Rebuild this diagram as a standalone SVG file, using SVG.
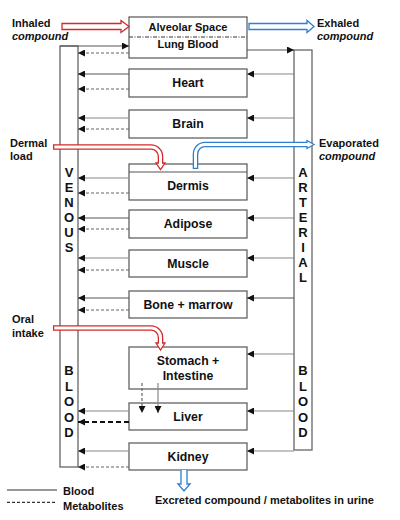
<svg xmlns="http://www.w3.org/2000/svg" width="400" height="520" viewBox="0 0 400 520">
<style>
text{font-family:"Liberation Sans",Arial,sans-serif;fill:#111;font-weight:bold}
.lbl{font-size:12.3px;text-anchor:middle}
.top{font-size:11px;text-anchor:middle}
.side{font-size:11px}
.it{font-style:italic}
.col{font-size:13px;text-anchor:middle}
.box{fill:#fff;stroke:#555;stroke-width:1.2}
.colr{fill:#fff;stroke:#666;stroke-width:1.3}
.s{stroke:#555;stroke-width:1.2;fill:none}
.a{stroke:#888;stroke-width:1.2;fill:none}
.d{stroke:#666;stroke-width:1.2;fill:none;stroke-dasharray:3 2}
.dd{stroke:#111;stroke-width:1.8;fill:none;stroke-dasharray:5 3}
.red{stroke:#d42a2a;stroke-width:1.3;fill:#fff}
.blue{stroke:#2f7fd0;stroke-width:1.3;fill:#fff}
</style>
<defs>
<marker id="ah" viewBox="0 0 8 8" refX="8" refY="4" markerWidth="7" markerHeight="7" markerUnits="userSpaceOnUse" orient="auto"><path d="M0,0 L8,4 L0,8 z" fill="#111"/></marker>
</defs>

<g id="venous">
<rect class="colr" x="60" y="46" width="18" height="421"/>
<text class="col" x="69" y="177">V</text>
<text class="col" x="69" y="192">E</text>
<text class="col" x="69" y="207">N</text>
<text class="col" x="69" y="222">O</text>
<text class="col" x="69" y="237">U</text>
<text class="col" x="69" y="252">S</text>
<text class="col" x="69" y="375">B</text>
<text class="col" x="69" y="390.5">L</text>
<text class="col" x="69" y="406">O</text>
<text class="col" x="69" y="421.5">O</text>
<text class="col" x="69" y="437">D</text>
</g>
<g id="arterial">
<rect class="colr" x="294" y="50" width="18" height="400"/>
<text class="col" x="303" y="177">A</text>
<text class="col" x="303" y="192">R</text>
<text class="col" x="303" y="207">T</text>
<text class="col" x="303" y="222">E</text>
<text class="col" x="303" y="237">R</text>
<text class="col" x="303" y="252">I</text>
<text class="col" x="303" y="267">A</text>
<text class="col" x="303" y="282">L</text>
<text class="col" x="303" y="375">B</text>
<text class="col" x="303" y="390.5">L</text>
<text class="col" x="303" y="406">O</text>
<text class="col" x="303" y="421.5">O</text>
<text class="col" x="303" y="437">D</text>
</g>

<g id="lung">
<rect class="box" x="129" y="17" width="118" height="41"/>
<line x1="129" y1="37" x2="247" y2="37" stroke="#333" stroke-width="1" stroke-dasharray="4 1.5 1 1.5"/>
<text class="top" x="188" y="31">Alveolar Space</text>
<text class="top" x="188" y="48.3">Lung Blood</text>
</g>
<g id="heart"><rect class="box" x="129" y="69" width="118" height="28"/><text class="lbl" x="188" y="87.4">Heart</text></g>
<g id="brain"><rect class="box" x="129" y="110" width="118" height="28"/><text class="lbl" x="188" y="128.4">Brain</text></g>
<g id="dermis"><rect class="box" x="129" y="164" width="118" height="36"/><line x1="129" y1="172" x2="247" y2="172" stroke="#555" stroke-width="1.2"/><text class="lbl" x="188" y="190.2">Dermis</text></g>
<g id="adipose"><rect class="box" x="129" y="210" width="118" height="28"/><text class="lbl" x="188" y="228.4">Adipose</text></g>
<g id="muscle"><rect class="box" x="129" y="250" width="118" height="27"/><text class="lbl" x="188" y="268">Muscle</text></g>
<g id="bone"><rect class="box" x="129" y="291" width="118" height="27"/><text class="lbl" x="188" y="309">Bone + marrow</text></g>
<g id="stomach"><rect class="box" x="129" y="347" width="118" height="42"/><text class="lbl" x="188" y="365">Stomach +</text><text class="lbl" x="188" y="380">Intestine</text></g>
<g id="liver"><rect class="box" x="129" y="403" width="118" height="27"/><text class="lbl" x="188" y="421">Liver</text></g>
<g id="kidney"><rect class="box" x="129" y="443" width="118" height="27"/><text class="lbl" x="188" y="461">Kidney</text></g>

<g id="connectors">
<line class="s" x1="60" y1="46" x2="129" y2="46" marker-end="url(#ah)"/>
<line class="s" x1="247" y1="50" x2="294" y2="50" marker-end="url(#ah)"/>
<line class="d" x1="129" y1="53" x2="78" y2="53" marker-end="url(#ah)"/>
<line class="s" x1="129" y1="74" x2="78" y2="74" marker-end="url(#ah)"/>
<line class="d" x1="129" y1="89" x2="78" y2="89" marker-end="url(#ah)"/>
<line class="a" x1="129" y1="118" x2="78" y2="118" marker-end="url(#ah)"/>
<line class="d" x1="129" y1="129" x2="78" y2="129" marker-end="url(#ah)"/>
<line class="a" x1="129" y1="178" x2="78" y2="178" marker-end="url(#ah)"/>
<line class="d" x1="129" y1="193" x2="78" y2="193" marker-end="url(#ah)"/>
<line class="s" x1="129" y1="218" x2="78" y2="218" marker-end="url(#ah)"/>
<line class="d" x1="129" y1="229" x2="78" y2="229" marker-end="url(#ah)"/>
<line class="a" x1="129" y1="258" x2="78" y2="258" marker-end="url(#ah)"/>
<line class="d" x1="129" y1="270" x2="78" y2="270" marker-end="url(#ah)"/>
<line class="s" x1="129" y1="298" x2="78" y2="298" marker-end="url(#ah)"/>
<line class="d" x1="129" y1="310" x2="78" y2="310" marker-end="url(#ah)"/>
<line class="a" x1="129" y1="411" x2="78" y2="411" marker-end="url(#ah)"/>
<line class="dd" x1="129" y1="422" x2="78" y2="422" marker-end="url(#ah)"/>
<line class="a" x1="129" y1="451" x2="78" y2="451" marker-end="url(#ah)"/>
<line class="d" x1="129" y1="467" x2="78" y2="467" marker-end="url(#ah)"/>
<line class="a" x1="294" y1="74" x2="247" y2="74" marker-end="url(#ah)"/>
<line class="a" x1="294" y1="118" x2="247" y2="118" marker-end="url(#ah)"/>
<line class="a" x1="294" y1="178" x2="247" y2="178" marker-end="url(#ah)"/>
<line class="a" x1="294" y1="218" x2="247" y2="218" marker-end="url(#ah)"/>
<line class="a" x1="294" y1="258" x2="247" y2="258" marker-end="url(#ah)"/>
<line class="s" x1="294" y1="298" x2="247" y2="298" marker-end="url(#ah)"/>
<line class="a" x1="294" y1="354" x2="247" y2="354" marker-end="url(#ah)"/>
<line class="a" x1="294" y1="411" x2="247" y2="411" marker-end="url(#ah)"/>
<line class="a" x1="294" y1="451" x2="247" y2="451" marker-end="url(#ah)"/>
<line class="d" x1="142" y1="383" x2="142" y2="413" stroke="#999" marker-end="url(#ah)"/>
<line class="a" x1="158" y1="383" x2="158" y2="413" marker-end="url(#ah)"/>

<path class="red" d="M62,23.5 H121 V20.5 L129,26.5 L121,32.5 V29.5 H62 Z"/>
<path class="blue" d="M249,23.5 H307 V20.5 L314,26.5 L307,32.5 V29.5 H249 Z"/>

<path d="M53,147 H151 A9.5,9.5 0 0 1 160.5,156.5 V163.5" stroke="#d42a2a" stroke-width="5.6" fill="none"/>
<path d="M156,163 L165,163 L160.5,169.5 Z" class="red"/>
<path d="M54.3,147 H151 A9.5,9.5 0 0 1 160.5,156.5 V164" stroke="#fff" stroke-width="3" fill="none"/>

<path d="M53,328 H151 A9.5,9.5 0 0 1 160.5,337.5 V343.5" stroke="#d42a2a" stroke-width="5.6" fill="none"/>
<path d="M156,343 L165,343 L160.5,350 Z" class="red"/>
<path d="M54.3,328 H151 A9.5,9.5 0 0 1 160.5,337.5 V344" stroke="#fff" stroke-width="3" fill="none"/>

<path d="M195.5,169 V154 A9.5,9.5 0 0 1 205,144.5 H307.5" stroke="#2f7fd0" stroke-width="5.6" fill="none"/>
<path d="M307,140.5 L314,144.5 L307,148.5 Z" class="blue"/>
<path d="M195.5,167.7 V154 A9.5,9.5 0 0 1 205,144.5 H308" stroke="#fff" stroke-width="3" fill="none"/>

<path class="blue" d="M181,470 V484 H178 L184,491 L190,484 H187 V470"/>
</g>

<g id="labels">
<text class="side" x="12" y="27">Inhaled</text>
<text class="side it" x="12" y="39.5">compound</text>
<text class="side" x="317" y="27">Exhaled</text>
<text class="side it" x="317" y="39.5">compound</text>
<text class="side" x="10" y="147">Dermal</text>
<text class="side" x="10" y="160">load</text>
<text class="side" x="319" y="147">Evaporated</text>
<text class="side it" x="319" y="160">compound</text>
<text class="side" x="12" y="323">Oral</text>
<text class="side" x="12" y="337">intake</text>
<text class="side" x="155" y="504">Excreted compound / metabolites in urine</text>
</g>

<g id="legend">
<line x1="7" y1="490" x2="57" y2="490" stroke="#333" stroke-width="1.2"/>
<line x1="7" y1="502.3" x2="57" y2="502.3" stroke="#333" stroke-width="1.2" stroke-dasharray="3 2"/>
<text class="side" x="63" y="494.5">Blood</text>
<text class="side" x="63" y="509.5">Metabolites</text>
</g>
</svg>
